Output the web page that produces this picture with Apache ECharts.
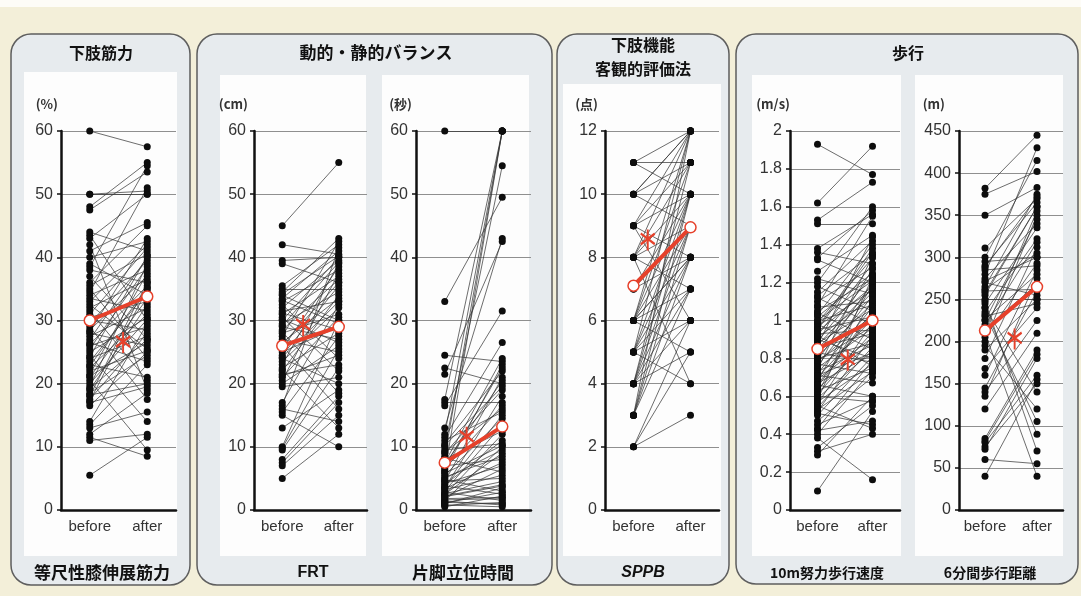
<!DOCTYPE html>
<html>
<head>
<meta charset="utf-8">
<script src="https://cdn.jsdelivr.net/npm/echarts@6/dist/echarts.min.js"></script>
<style>
  html, body { margin: 0; padding: 0; background: #f3efd9; }
  #chart { width: 1081px; height: 596px; }
</style>
</head>
<body>
<div id="chart"></div>
<script>
  // 等尺性膝伸展筋力 (%)
  const beforeKnee = [60, 50, 50, 48, 47.5, 44, 43.5, 43, 42, 41, 40, 39, 38.5, 38, 37, 36, 35.5, 35, 34.5, 34,
    33.5, 33, 32.5, 32, 31.5, 31, 30.5, 30, 29.5, 29, 28.5, 28.2, 28, 27.5, 27, 26.5, 26.2, 26, 25.5, 25,
    24.5, 24.2, 24, 23.5, 23, 22.8, 22.5, 22, 21.5, 21.2, 21, 20.5, 20, 19.5, 19.2, 19, 18.5, 18.2, 18, 17.5,
    17.2, 17, 16.5, 14, 13.5, 13, 12, 11.5, 11, 5.5];
  const afterKnee = [57.5, 50.5, 50, 55, 53.5, 41, 30, 50, 19, 45.5, 42.5, 34, 54.5, 36, 27, 45, 40.5, 24, 51, 38,
    31.5, 42, 25.5, 36.5, 20.5, 41.5, 33, 28.5, 39.5, 17.5, 37, 43, 26, 32, 40, 23.5, 35.5, 29, 38.5, 30.5,
    14, 40.2, 27.5, 34.5, 21, 35.2, 31, 25.2, 37.5, 26.5, 33.5, 9.5, 30.2, 39, 27, 32.5, 24.5, 20, 36, 28,
    35, 19.5, 25, 29.5, 23, 15.5, 18.5, 8.5, 12, 11.5];

  // FRT (cm)
  const beforeFrt = [45, 42, 39.5, 39, 35.5, 35, 34.5, 34, 33.5, 33, 32.5, 32, 31.5, 31, 30.5, 30, 29.5, 29, 28.5, 28,
    27.5, 27, 26.5, 26, 25.5, 25, 24.5, 24, 23.5, 23, 22.5, 22, 21.5, 21, 20.5, 20, 19.5, 17, 16.5, 16,
    15.5, 15, 13, 10, 9.8, 9.5, 8, 7.5, 7, 5, 34.2, 33.2, 30.2, 28.2, 24.2, 22.2, 21.2, 26.2, 29.2, 31.2];
  const afterFrt = [55, 40.5, 40, 36, 42, 35, 43, 30, 41, 38, 24, 39.5, 33, 37, 22, 40, 34.5, 27, 36.5, 31,
    42.5, 25, 33.5, 16, 38.5, 29, 35.5, 20, 32, 39, 28, 34, 23, 30.5, 37.5, 26, 21, 32.5, 41.5, 14,
    27.5, 10, 19, 30, 25.5, 22.5, 18, 17, 15, 12, 40.2, 29.5, 26.5, 18.5, 33, 13, 24.5, 36, 39.2, 28.5];

  // 片脚立位時間 (秒)
  const beforeStand = [60, 33, 24.5, 22.5, 21.5, 17.5, 17, 16.5, 13, 12, 11.5, 11, 10.5, 10, 9.5, 9, 8.5, 8, 7.5, 7,
    6.5, 6, 5.5, 5, 4.8, 4.5, 4.2, 4, 3.8, 3.5, 3.2, 3, 2.8, 2.5, 2.2, 2, 1.8, 1.5, 1.2, 1,
    0.8, 0.5, 6.2, 5.2, 3.6, 2.6, 1.6, 7.2, 8.2, 9.2, 2.4, 1.4, 4.6, 3.4, 0.7, 1.1, 2.1, 5.8, 6.8, 10.2];
  const afterStand = [60, 49.5, 23.5, 20, 42.5, 60, 17, 31.5, 43, 60, 26.5, 15.5, 22, 54.5, 10.5, 19, 60, 12.5, 24, 8,
    16.5, 60, 14.5, 9.5, 3, 21, 7, 11, 2.5, 18, 5.5, 13.5, 1.5, 9, 4, 6.5, 2, 10, 1, 3.5,
    0.5, 2.2, 23, 8.5, 15, 4.5, 1.8, 20.5, 6, 16, 12, 0.8, 5, 7.5, 1.2, 2.8, 3.8, 10.2, 22.5, 19.5];

  // SPPB (点)
  const beforeSppb = [11, 11, 11, 10, 10, 10, 10, 9, 9, 9, 9, 8, 8, 8, 8, 8, 7, 7, 6, 6,
    6, 6, 6, 6, 6, 6, 6, 5, 5, 5, 5, 5, 5, 4, 4, 4, 4, 4, 4, 3,
    3, 3, 3, 2, 2, 2, 5, 4, 3, 7, 8, 9];
  const afterSppb = [12, 11, 10, 12, 11, 9, 12, 12, 11, 10, 8, 12, 10, 9, 7, 11, 9, 10, 12, 10,
    9, 8, 7, 6, 5, 11, 8, 10, 9, 8, 7, 6, 4, 9, 8, 10, 7, 6, 5, 9,
    8, 7, 10, 3, 5, 6, 12, 11, 12, 8, 4, 6];

  // 10m努力歩行速度 (m/s)
  const beforeSpeed = [1.93, 1.62, 1.53, 1.51, 1.38, 1.36, 1.33, 1.32, 1.26, 1.22, 1.2, 1.18, 1.15, 1.13, 1.12, 1.1, 1.08, 1.07, 1.05, 1.04,
    1.03, 1.02, 1.0, 0.99, 0.98, 0.97, 0.96, 0.95, 0.94, 0.93, 0.92, 0.91, 0.9, 0.89, 0.88, 0.87, 0.86, 0.85, 0.84, 0.83,
    0.82, 0.81, 0.8, 0.79, 0.78, 0.77, 0.76, 0.75, 0.74, 0.73, 0.72, 0.71, 0.7, 0.69, 0.68, 0.67, 0.66, 0.65, 0.64, 0.63,
    0.62, 0.61, 0.6, 0.59, 0.58, 0.57, 0.56, 0.55, 0.54, 0.53, 0.52, 0.51, 0.5, 0.47, 0.45, 0.43, 0.42, 0.4, 0.38, 0.33,
    0.31, 0.29, 0.1, 0.87, 0.92, 1.0, 0.79, 0.66, 0.71, 0.95];
  const afterSpeed = [1.77, 1.92, 1.73, 1.51, 1.56, 1.3, 1.58, 1.2, 1.45, 1.14, 1.6, 1.05, 1.42, 1.35, 0.98, 1.28, 1.55, 1.1, 1.22, 0.9,
    1.4, 1.25, 1.08, 1.33, 0.85, 1.16, 1.38, 1.02, 1.18, 0.95, 1.3, 1.12, 0.8, 1.24, 1.06, 1.44, 0.93, 1.15, 1.0, 0.78,
    1.27, 1.09, 0.88, 1.2, 1.03, 0.72, 1.13, 0.96, 1.34, 0.87, 1.07, 0.67, 1.01, 0.91, 1.19, 0.82, 0.6, 1.04, 0.89, 0.75,
    1.11, 0.94, 0.57, 0.84, 1.23, 0.77, 0.99, 0.43, 0.86, 0.73, 0.92, 0.45, 0.81, 0.7, 0.58, 0.79, 0.47, 0.74, 0.16, 0.55,
    0.4, 0.6, 0.52, 1.17, 0.76, 1.21, 0.97, 1.05, 0.83, 1.36];

  // 6分間歩行距離 (m)
  const beforeWalk6 = [382, 375, 350, 311, 300, 295, 290, 285, 280, 275, 270, 265, 262, 255, 250, 245, 240, 235, 230, 225,
    220, 215, 205, 200, 195, 180, 168, 160, 145, 140, 135, 120, 85, 82, 80, 75, 72, 60, 40, 248,
    232, 210, 258, 272, 288, 240, 226, 212, 260, 190];
  const afterWalk6 = [445, 402, 383, 370, 415, 300, 365, 290, 430, 340, 255, 375, 305, 360, 250, 335, 90, 322, 245, 345,
    318, 268, 293, 350, 120, 312, 240, 285, 260, 225, 275, 210, 190, 185, 160, 150, 180, 55, 155, 70,
    105, 40, 360, 300, 372, 140, 280, 355, 262, 250];

  // 平均値 [before, after] と有意差マーク位置 [x, y]
  const means = [[30, 33.8], [26, 29], [7.5, 13.2], [7.1, 8.95], [0.85, 1.0], [213, 265]];
  const sigMarks = [[0.58, 26.5], [0.37, 29.2], [0.38, 11.5], [0.25, 8.55], [0.55, 0.79], [0.57, 203]];

  const yMax = [60, 60, 60, 12, 2, 450];
  const yStep = [10, 10, 10, 2, 0.2, 50];
  const units = ['(%)', '(cm)', '(秒)', '(点)', '(m/s)', '(m)'];
  const xLabels = ['before', 'after'];

  const pairs = [
    [beforeKnee, afterKnee],
    [beforeFrt, afterFrt],
    [beforeStand, afterStand],
    [beforeSppb, afterSppb],
    [beforeSpeed, afterSpeed],
    [beforeWalk6, afterWalk6],
  ];

  // layout
  const gridLeft = [61, 254, 416, 605, 790, 959];
  const gridWidth = [115, 113, 115, 114, 110, 104];
  const unitPad = [3, 6, 4, 7, 0, 14];

  const red = '#e6412b';
  const asterisk = 'path://M8.8,0h2.4v20h-2.4z M0.6,4.9l1.2,-2.08l17.6,10.16l-1.2,2.08z M0.6,13.1l17.6,-10.16l1.2,2.08l-17.6,10.16z';

  const chart = echarts.init(document.getElementById('chart'));

  const grid = [], xAxis = [], yAxis = [], series = [];
  pairs.forEach(([before, after], i) => {
    grid.push({ left: gridLeft[i], width: gridWidth[i], top: 131, height: 379 });
    xAxis.push({
      type: 'value', gridIndex: i, min: -0.5, max: 1.5,
      axisLine: { onZero: false, lineStyle: { color: '#111', width: 2.5 } },
      axisTick: { show: false },
      splitLine: { show: false },
      axisLabel: {
        customValues: [0, 1],
        formatter: (v) => xLabels[Math.round(v)],
        color: '#333', fontSize: 15, margin: 9, fontFamily: 'Liberation Sans'
      }
    });
    yAxis.push({
      type: 'value', gridIndex: i, min: 0, max: yMax[i], interval: yStep[i],
      name: units[i], nameLocation: 'end', nameGap: 27,
      nameTextStyle: {
        align: 'right', verticalAlign: 'middle', fontSize: 13, fontWeight: 'bold',
        color: '#333', fontFamily: 'Noto Sans CJK JP', padding: [0, unitPad[i], 0, 0]
      },
      axisLine: { show: true, onZero: false, lineStyle: { color: '#111', width: 2.5 } },
      axisTick: { show: true, length: 4, lineStyle: { color: '#111', width: 1.5 } },
      axisLabel: { color: '#333', fontSize: 16, margin: 8, fontFamily: 'Liberation Sans' },
      splitLine: { lineStyle: { color: '#8f8f8f', width: 1 } }
    });
    series.push({
      type: 'lines', coordinateSystem: 'cartesian2d', xAxisIndex: i, yAxisIndex: i,
      silent: true, z: 2,
      lineStyle: { color: '#333', width: 0.8, opacity: 0.9 },
      data: before.map((b, k) => ({ coords: [[0, b], [1, after[k]]] }))
    });
    series.push({
      type: 'scatter', xAxisIndex: i, yAxisIndex: i, symbolSize: 7, z: 3, silent: true,
      itemStyle: { color: '#0d0d0d', opacity: 1 },
      data: before.map((b) => [0, b]).concat(after.map((a) => [1, a]))
    });
    series.push({
      type: 'line', xAxisIndex: i, yAxisIndex: i, z: 5, silent: true,
      symbol: 'circle', symbolSize: 11,
      itemStyle: { color: '#fff', borderColor: red, borderWidth: 1.5 },
      lineStyle: { color: red, width: 4 },
      data: [[0, means[i][0]], [1, means[i][1]]]
    });
    series.push({
      type: 'scatter', xAxisIndex: i, yAxisIndex: i, z: 6, silent: true,
      symbol: asterisk, symbolSize: [15, 21], symbolKeepAspect: false,
      itemStyle: { color: red, opacity: 1 },
      data: [sigMarks[i]]
    });
  });

  const panelRect = (x, y, w, h) => ({
    type: 'rect', z: -50, shape: { x, y, width: w, height: h, r: 20 },
    style: { fill: '#e7ebee', stroke: '#5e5e5e', lineWidth: 1.5 }
  });
  const whiteRect = (x, y, w, h) => ({
    type: 'rect', z: -40, shape: { x, y, width: w, height: h },
    style: { fill: '#fdfdfd' }
  });
  const label = (text, x, y, size, extra) => ({
    type: 'text', z: 10, x, y,
    style: Object.assign({
      text, align: 'center', verticalAlign: 'middle', fill: '#111',
      fontSize: size, fontWeight: 'bold', fontFamily: 'Noto Sans CJK JP'
    }, extra || {})
  });

  const option = {
    animation: false,
    backgroundColor: '#f3efd9',
    graphic: [
      { type: 'rect', z: -60, shape: { x: 0, y: 0, width: 1081, height: 7 }, style: { fill: '#fdfcf7' } },
      panelRect(11, 34, 179, 551),
      panelRect(197, 34, 355, 551),
      panelRect(557, 34, 172, 551),
      panelRect(736, 34, 342, 550),
      whiteRect(24, 72, 153, 484),
      whiteRect(220, 75, 146, 481),
      whiteRect(382, 75, 147, 481),
      whiteRect(563, 84, 158, 472),
      whiteRect(752, 75, 149, 481),
      whiteRect(915, 75, 148, 481),
      label('下肢筋力', 101, 53, 16),
      label('動的・静的バランス', 376, 53, 17),
      label('下肢機能', 643, 45, 16),
      label('客観的評価法', 643, 69, 16),
      label('歩行', 908, 53, 16),
      label('等尺性膝伸展筋力', 102, 573, 17),
      label('FRT', 313, 573, 16, { fontFamily: 'Liberation Sans' }),
      label('片脚立位時間', 463, 573, 17),
      label('SPPB', 643, 573, 16, { fontFamily: 'Liberation Sans', fontStyle: 'italic' }),
      label('10m努力歩行速度', 827, 573, 14),
      label('6分間歩行距離', 990, 573, 14)
    ],
    grid, xAxis, yAxis, series
  };

  chart.setOption(option);
</script>
</body>
</html>
